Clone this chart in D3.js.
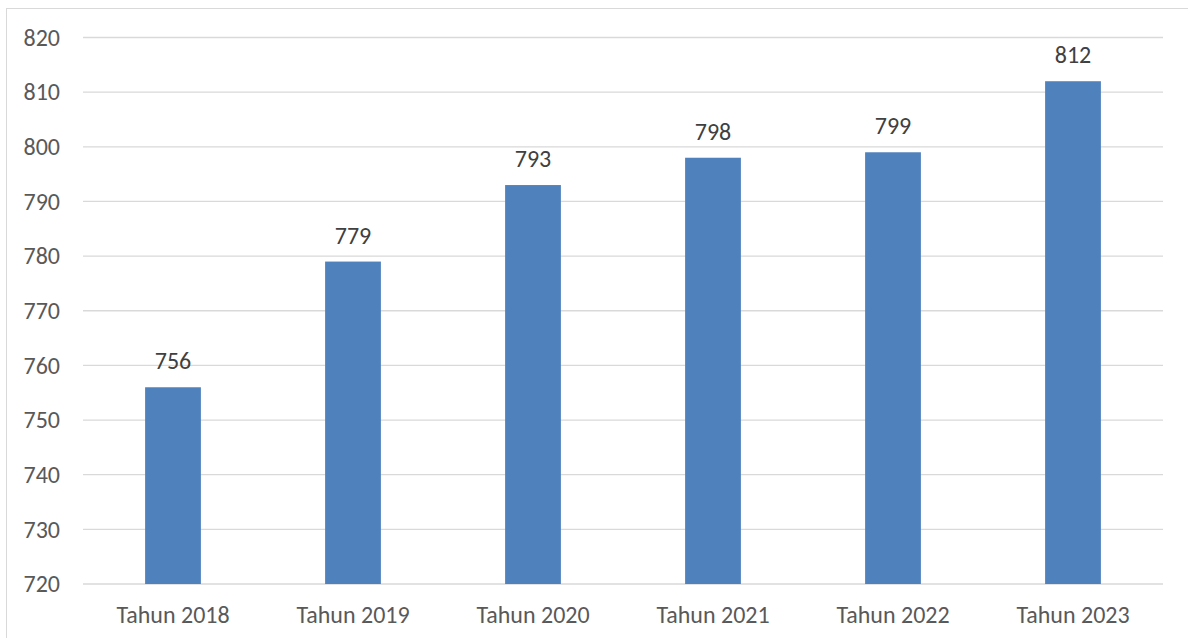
<!DOCTYPE html>
<html>
<head>
<meta charset="utf-8">
<script src="https://cdn.jsdelivr.net/npm/d3@7"></script>
<style>
  body { margin: 0; background: #fff; }
  svg { display: block; font-family: Carlito, "Open Sans", sans-serif; }
</style>
</head>
<body>
<svg width="1188" height="638"></svg>
<script>
// data
const years = ['Tahun 2018', 'Tahun 2019', 'Tahun 2020', 'Tahun 2021', 'Tahun 2022', 'Tahun 2023'];
const values = [756, 779, 793, 798, 799, 812];
const yTicks = [720, 730, 740, 750, 760, 770, 780, 790, 800, 810, 820];

const svg = d3.select('svg');

// chart frame
svg.append('rect')
    .attr('x', 6.5).attr('y', 8.5)
    .attr('width', 1190).attr('height', 640)
    .attr('fill', 'none')
    .attr('stroke', '#d9d9d9');

const margin = { top: 37.5, left: 83, right: 25, bottom: 54 };
const width = 1188 - margin.left - margin.right;
const height = 638 - margin.top - margin.bottom;

const g = svg.append('g')
    .attr('transform', `translate(${margin.left},${margin.top})`);

const x = d3.scaleBand()
    .domain(years)
    .range([0, width])
    .paddingInner(0.69)
    .paddingOuter(0.345);

const y = d3.scaleLinear()
    .domain([720, 820])
    .range([height, 0]);

// gridlines
g.append('g')
    .selectAll('line')
    .data(yTicks)
    .join('line')
    .attr('x1', 0).attr('x2', width)
    .attr('y1', d => y(d)).attr('y2', d => y(d))
    .attr('stroke', '#d9d9d9')
    .attr('stroke-width', 1.3);

// y axis labels
const yAxis = g.append('g')
    .call(d3.axisLeft(y).tickValues(yTicks).tickSize(0).tickPadding(23));
yAxis.select('.domain').remove();
yAxis.selectAll('text')
    .attr('fill', '#595959')
    .style('font-size', '24px')
    .style('font-family', 'Carlito, "Open Sans", sans-serif');

// x axis labels
const xAxis = g.append('g')
    .attr('transform', `translate(0,${height})`)
    .call(d3.axisBottom(x).tickSize(0).tickPadding(22));
xAxis.select('.domain').remove();
xAxis.selectAll('text')
    .attr('fill', '#595959')
    .style('font-size', '24px')
    .style('font-family', 'Carlito, "Open Sans", sans-serif');

// bars
g.selectAll('.bar')
    .data(values)
    .join('rect')
    .attr('class', 'bar')
    .attr('x', (d, i) => x(years[i]))
    .attr('width', x.bandwidth())
    .attr('y', d => y(d))
    .attr('height', d => height - y(d))
    .attr('fill', '#4f81bd');

// value labels
g.selectAll('.label')
    .data(values)
    .join('text')
    .attr('class', 'label')
    .attr('x', (d, i) => x(years[i]) + x.bandwidth() / 2)
    .attr('y', d => y(d) - 18)
    .attr('text-anchor', 'middle')
    .attr('fill', '#404040')
    .style('font-size', '24px')
    .text(d => d);
</script>
</body>
</html>
